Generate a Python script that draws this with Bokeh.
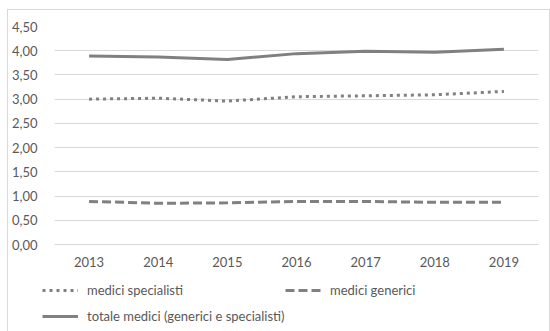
from bokeh.plotting import figure
from bokeh.models import FactorRange, Range1d, FixedTicker, Legend, LegendItem
from bokeh.layouts import column
from bokeh.embed import file_html
from bokeh.resources import INLINE

years = ["2013", "2014", "2015", "2016", "2017", "2018", "2019"]
specialisti = [3.00, 3.02, 2.96, 3.05, 3.07, 3.09, 3.16]
generici = [0.89, 0.85, 0.86, 0.89, 0.89, 0.87, 0.87]
totale = [3.89, 3.87, 3.82, 3.94, 3.99, 3.97, 4.03]
y_ticks = [0, 0.5, 1.0, 1.5, 2.0, 2.5, 3.0, 3.5, 4.0, 4.5]
y_labels = ["0,00", "0,50", "1,00", "1,50", "2,00", "2,50", "3,00", "3,50", "4,00", "4,50"]
series_names = ["medici specialisti", "medici generici", "totale medici (generici e specialisti)"]

FONT = "Lato"
TXT = "#595959"
LINE = "#808080"
FS = "13px"
styles = [dict(line_dash="3 4"), dict(line_dash="9 4"), dict()]
series = [specialisti, generici, totale]

# main chart
p = figure(width=541, height=265, x_range=FactorRange(*years), y_range=Range1d(0, 4.5),
           output_backend="svg", toolbar_location=None,
           min_border_left=46, min_border_right=11, min_border_top=16, min_border_bottom=31)
p.outline_line_color = None
p.background_fill_color = "white"
p.border_fill_color = "white"

p.yaxis.ticker = FixedTicker(ticks=y_ticks)
p.yaxis.major_label_overrides = {t: l for t, l in zip(y_ticks, y_labels)}
p.yaxis.axis_line_color = None
p.yaxis.major_tick_line_color = None
p.yaxis.minor_tick_line_color = None
p.yaxis.major_label_text_color = TXT
p.yaxis.major_label_text_font = FONT
p.yaxis.major_label_text_font_size = FS
p.yaxis.major_label_standoff = 11

p.xaxis.axis_line_color = "#d9d9d9"
p.xaxis.major_tick_line_color = None
p.xaxis.major_label_text_color = TXT
p.xaxis.major_label_text_font = FONT
p.xaxis.major_label_text_font_size = FS
p.xaxis.major_label_standoff = 6

p.xgrid.grid_line_color = None
p.ygrid.grid_line_color = "#d9d9d9"
p.ygrid.grid_line_width = 1

for vals, st in zip(series, styles):
    p.line(years, vals, line_color=LINE, line_width=3, **st)

# legend strip (same series drawn outside its visible range, used only for the legend)
q = figure(width=541, height=57, x_range=FactorRange(*years), y_range=Range1d(100, 101),
           output_backend="svg", toolbar_location=None,
           x_axis_location=None, y_axis_location=None,
           min_border_left=0, min_border_right=0, min_border_top=0, min_border_bottom=0)
q.grid.visible = False
q.outline_line_color = None
q.background_fill_color = "white"
q.border_fill_color = "white"
rs = [q.line(years, vals, line_color=LINE, line_width=3, **st) for vals, st in zip(series, styles)]

legend_x = 34
if "frame_align" in q.properties():
    q.frame_align = False
    p.frame_align = False
else:
    legend_x = 34 - 46

common = dict(label_text_font=FONT, label_text_font_size=FS, label_text_color=TXT,
              glyph_width=36, glyph_height=12, label_standoff=9, label_height=12,
              border_line_color=None, background_fill_alpha=0, padding=0, margin=0,
              orientation="horizontal", spacing=0)
legend1 = Legend(items=[LegendItem(label=series_names[0], renderers=[rs[0]]),
                        LegendItem(label=series_names[1], renderers=[rs[1]])],
                 label_width=198, location=(legend_x, 34), **common)
legend2 = Legend(items=[LegendItem(label=series_names[2], renderers=[rs[2]])],
                 location=(legend_x, 8), **common)
q.add_layout(legend1, "center")
q.add_layout(legend2, "center")

layout = column(p, q, spacing=0)
layout.styles = {"margin-left": "7px", "margin-top": "9px",
                 "border-left": "1px solid #d9d9d9", "border-top": "1px solid #d9d9d9",
                 "border-right": "1px solid #d9d9d9"}

open("out.html", "w").write(file_html(layout, INLINE))
